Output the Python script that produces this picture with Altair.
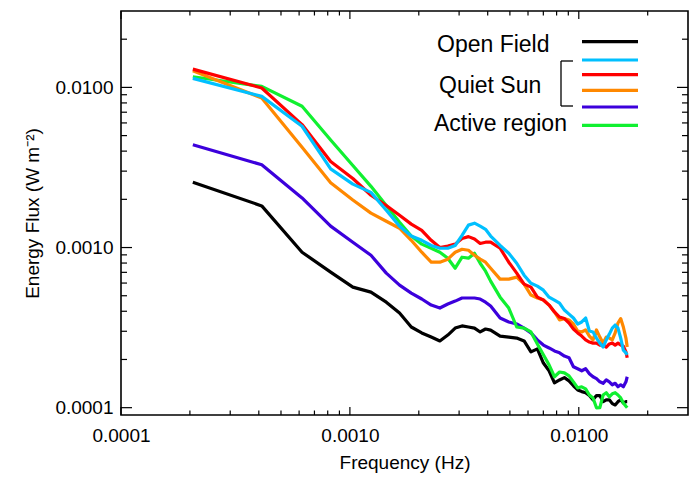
import altair as alt
import pandas as pd

FONT = "Liberation Sans"
W, H = 567, 404

# Frequency grid: harmonics of the spectral resolution
DF = 2.06e-4  # Hz
harmonic = list(range(1, 21)) + list(range(22, 80, 2)) + [79]
freq = [n * DF for n in harmonic]

open_field = [
    0.00256, 0.00182, 0.000935, 0.000702, 0.000566, 0.000527, 0.000456, 0.000390, 0.000319, 0.000293,
    0.000276, 0.000261, 0.000284, 0.000314, 0.000324, 0.000319, 0.000314, 0.000297, 0.000310, 0.000305,
    0.000280, 0.000276, 0.000272, 0.000261, 0.000223, 0.000233, 0.000190, 0.000170, 0.000143, 0.000149,
    0.000154, 0.000147, 0.000137, 0.000129, 0.000126, 0.000124, 0.000119, 0.000112, 0.000119, 0.000119,
    0.000109, 0.000112, 0.000112, 0.000106, 0.000104, 0.000109, 0.000112, 0.000107, 0.000109, 0.000109,
]
quiet_sun_a = [
    0.01138, 0.00879, 0.00572, 0.00310, 0.00249, 0.00221, 0.00171, 0.00136, 0.00118, 0.00111,
    0.00103, 0.000990, 0.000990, 0.00103, 0.00119, 0.00138, 0.00142, 0.00136, 0.00130, 0.00118,
    0.00103, 0.000921, 0.000798, 0.000672, 0.000599, 0.000574, 0.000542, 0.000490, 0.000470, 0.000450,
    0.000407, 0.000384, 0.000363, 0.000333, 0.000343, 0.000363, 0.000301, 0.000297, 0.000272, 0.000253,
    0.000239, 0.000265, 0.000288, 0.000314, 0.000328, 0.000314, 0.000272, 0.000229, 0.000220, 0.000214,
]
quiet_sun_b = [
    0.0130, 0.00992, 0.00586, 0.00345, 0.00270, 0.00212, 0.00183, 0.00159, 0.00140, 0.00128,
    0.00111, 0.00100, 0.00102, 0.00105, 0.00114, 0.00117, 0.00113, 0.00106, 0.00108, 0.00108,
    0.000990, 0.000810, 0.000692, 0.000591, 0.000566, 0.000490, 0.000470, 0.000437, 0.000396, 0.000368,
    0.000360, 0.000338, 0.000310, 0.000293, 0.000280, 0.000265, 0.000257, 0.000253, 0.000253, 0.000246,
    0.000246, 0.000239, 0.000250, 0.000253, 0.000246, 0.000253, 0.000246, 0.000242, 0.000223, 0.000205,
]
quiet_sun_c = [
    0.0127, 0.00859, 0.00423, 0.00254, 0.00198, 0.00164, 0.00146, 0.00132, 0.00111, 0.000935,
    0.000810, 0.000810, 0.000846, 0.000935, 0.000976, 0.000962, 0.000895, 0.000846, 0.000810, 0.000743,
    0.000635, 0.000635, 0.000653, 0.000591, 0.000505, 0.000484, 0.000470, 0.000437, 0.000396, 0.000353,
    0.000360, 0.000353, 0.000333, 0.000301, 0.000297, 0.000306, 0.000280, 0.000265, 0.000306, 0.000276,
    0.000253, 0.000276, 0.000272, 0.000265, 0.000293, 0.000338, 0.000360, 0.000319, 0.000272, 0.000239,
]
quiet_sun_d = [
    0.00438, 0.00329, 0.00204, 0.00136, 0.00108, 0.000895, 0.000692, 0.000582, 0.000519, 0.000477,
    0.000437, 0.000419, 0.000444, 0.000463, 0.000484, 0.000484, 0.000484, 0.000477, 0.000456, 0.000431,
    0.000363, 0.000343, 0.000333, 0.000314, 0.000293, 0.000265, 0.000246, 0.000236, 0.000226, 0.000220,
    0.000210, 0.000205, 0.000180, 0.000175, 0.000170, 0.000175, 0.000163, 0.000156, 0.000152, 0.000145,
    0.000142, 0.000149, 0.000145, 0.000139, 0.000142, 0.000135, 0.000139, 0.000135, 0.000145, 0.000156,
]
active_region = [
    0.01166, 0.01014, 0.00762, 0.00469, 0.00325, 0.00241, 0.00183, 0.00144, 0.00118, 0.00105,
    0.000990, 0.000935, 0.000858, 0.000743, 0.000870, 0.000858, 0.000921, 0.000798, 0.000712, 0.000617,
    0.000490, 0.000419, 0.000319, 0.000314, 0.000297, 0.000250, 0.000214, 0.000185, 0.000156, 0.000167,
    0.000165, 0.000158, 0.000145, 0.000133, 0.000135, 0.000131, 0.000120, 0.000115, 0.0000998, 0.000100,
    0.000120, 0.000124, 0.000117, 0.000122, 0.000124, 0.000120, 0.000115, 0.000107, 0.000102, 0.0000998,
]

# (values, colour, legend row y in pixels), in legend order
series = [
    (open_field, "#000000", 30.7),
    (quiet_sun_a, "#00c0ff", 49.0),
    (quiet_sun_b, "#ff0000", 63.7),
    (quiet_sun_c, "#ff8800", 79.3),
    (quiet_sun_d, "#3c00dc", 96.0),
    (active_region, "#10f030", 114.3),
]
draw_order = [0, 4, 5, 3, 2, 1]

legend_text = ["Open Field", "Quiet Sun", "Active region"]
legend_text_x = [316, 318, 313]
legend_text_y = [40.5, 81.5, 119.5]

x_major = [1e-4, 1e-3, 1e-2]
x_minor = [2e-4, 3e-4, 4e-4, 5e-4, 6e-4, 7e-4, 8e-4, 9e-4,
           2e-3, 3e-3, 4e-3, 5e-3, 6e-3, 7e-3, 8e-3, 9e-3, 2e-2]
y_major = [1e-4, 1e-3, 1e-2]
y_minor = x_minor

xs = alt.Scale(type="log", domain=[1e-4, 0.03], nice=False)
ys = alt.Scale(type="log", domain=[9e-5, 0.03], nice=False)

xaxis = alt.Axis(values=x_major, format=".4f", ticks=False, domain=False, grid=False,
                 labelFlush=False, labelFont=FONT, labelFontSize=19, labelColor="black",
                 labelPadding=11, title="Frequency (Hz)", titleFont=FONT, titleFontSize=19,
                 titleFontWeight="normal", titleColor="black", titlePadding=8)
yaxis = alt.Axis(values=y_major, format=".4f", ticks=False, domain=False, grid=False,
                 labelFlush=False, labelFont=FONT, labelFontSize=19, labelColor="black",
                 labelPadding=8, title="Energy Flux (W m⁻²)", titleFont=FONT, titleFontSize=19,
                 titleFontWeight="normal", titleColor="black", titlePadding=12)

one_row = pd.DataFrame({"k": [0]})
layers = []

for i in draw_order:
    vals, colour, _ = series[i]
    d = pd.DataFrame({"freq": freq, "flux": vals})
    layers.append(
        alt.Chart(d).mark_line(color=colour, strokeWidth=3.2, strokeJoin="round").encode(
            x=alt.X("freq:Q", scale=xs, axis=xaxis),
            y=alt.Y("flux:Q", scale=ys, axis=yaxis),
        )
    )


def x_ticks(values, length):
    d = pd.DataFrame({"v": values})
    base = alt.Chart(d).mark_rule(color="black", strokeWidth=1.2)
    bottom = base.encode(x=alt.X("v:Q", scale=xs, axis=xaxis),
                         y=alt.value(H), y2=alt.value(H - length))
    top = base.encode(x=alt.X("v:Q", scale=xs, axis=xaxis),
                      y=alt.value(0), y2=alt.value(length))
    return [bottom, top]


def y_ticks(values, length):
    d = pd.DataFrame({"v": values})
    base = alt.Chart(d).mark_rule(color="black", strokeWidth=1.2)
    left = base.encode(y=alt.Y("v:Q", scale=ys, axis=yaxis),
                       x=alt.value(0), x2=alt.value(length))
    right = base.encode(y=alt.Y("v:Q", scale=ys, axis=yaxis),
                        x=alt.value(W), x2=alt.value(W - length))
    return [left, right]


layers += x_ticks(x_major, 8) + x_ticks(x_minor, 4.5)
layers += y_ticks(y_major, 11) + y_ticks(y_minor, 6)

# Legend: coloured line samples
for vals, colour, ly in series:
    layers.append(
        alt.Chart(one_row).mark_rule(color=colour, strokeWidth=3.2).encode(
            x=alt.value(461), x2=alt.value(517), y=alt.value(ly)
        )
    )

# Legend: bracket grouping the quiet-sun rows
bracket = [(440, 440, 50, 95), (440, 452, 50, 50), (440, 452, 95, 95)]
for x1, x2, y1, y2 in bracket:
    layers.append(
        alt.Chart(one_row).mark_rule(color="black", strokeWidth=1.3).encode(
            x=alt.value(x1), x2=alt.value(x2), y=alt.value(y1), y2=alt.value(y2)
        )
    )

# Legend: labels
for label, tx, ty in zip(legend_text, legend_text_x, legend_text_y):
    layers.append(
        alt.Chart(one_row).mark_text(font=FONT, fontSize=23, align="left",
                                     baseline="alphabetic", color="black").encode(
            x=alt.value(tx), y=alt.value(ty), text=alt.value(label)
        )
    )

chart = alt.layer(*layers).properties(
    width=W, height=H,
    autosize=alt.AutoSizeParams(type="none"),
    padding={"left": 121, "top": 11, "right": 4, "bottom": 69},
    background="white",
).configure_view(stroke="black", strokeWidth=1.6)

chart.save("out.html", embed_options={"renderer": "svg", "actions": False})
